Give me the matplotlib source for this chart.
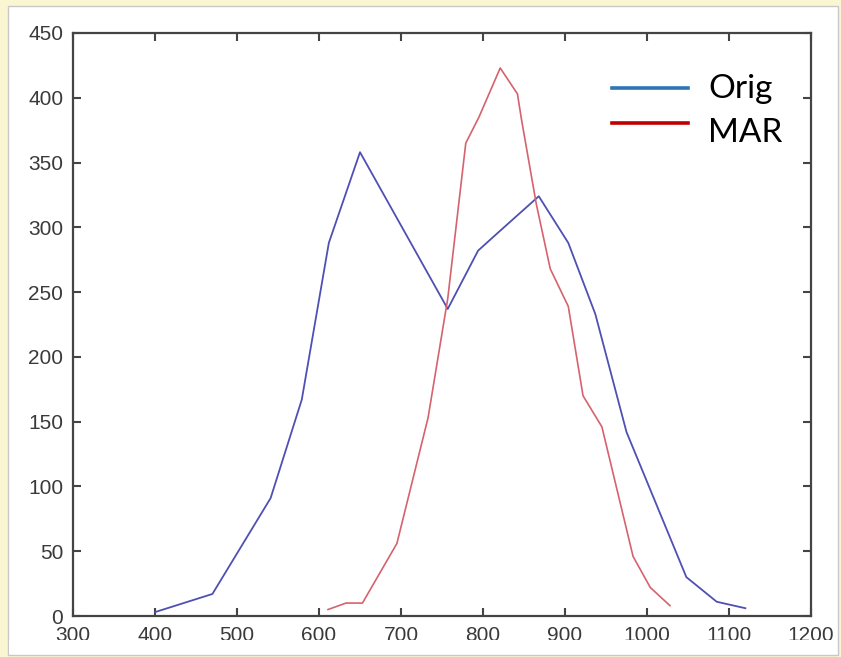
import numpy as np
import matplotlib
import matplotlib.pyplot as plt
from matplotlib.patches import Rectangle
from matplotlib.lines import Line2D

# values
orig_x = [400, 470, 541, 579, 612, 650, 757, 794, 815, 868, 904, 937, 975, 1048, 1085, 1120]
orig_y = [3, 17, 91, 167, 288, 358, 237, 282, 294, 324, 288, 233, 142, 30, 11, 6]

mar_x = [611, 633, 653, 695, 733, 757, 779, 795, 821, 842, 847, 865, 882, 904, 922, 945, 983, 1004, 1028]
mar_y = [5, 10, 10, 56, 153, 245, 365, 385, 423, 403, 383, 318, 268, 239, 170, 146, 46, 22, 8]

x_ticks = [300, 400, 500, 600, 700, 800, 900, 1000, 1100, 1200]
y_ticks = [0, 50, 100, 150, 200, 250, 300, 350, 400, 450]
legend_names = ["Orig", "MAR"]

W, H = 841, 657

def fx(px):
    return px / W

def fy(py):
    return 1 - py / H

fig = plt.figure(figsize=(W / 100, H / 100), dpi=100, facecolor='#faf6d2')

# white window area of the screenshot
fig.patches.append(Rectangle((fx(8), fy(655)), fx(838) - fx(8), fy(6) - fy(655),
                             transform=fig.transFigure, facecolor='white',
                             edgecolor='#c8c8c8', lw=1.0, zorder=-5))

ax = fig.add_axes([fx(73), fy(616), fx(811) - fx(73), fy(33) - fy(616)])
ax.set_zorder(1)
ax.plot(orig_x, orig_y, color='#4f4fb4', lw=1.3)
ax.plot(mar_x, mar_y, color='#d6626e', lw=1.2)

ax.set_xlim(300, 1200)
ax.set_ylim(0, 450)
ax.set_xticks(x_ticks)
ax.set_yticks(y_ticks)
for s in ax.spines.values():
    s.set_color('#444444')
    s.set_linewidth(1.6)
ax.tick_params(direction='in', length=6, width=1.5, color='#444444',
               top=True, right=True, labelsize=15, labelcolor='#3a3a3a', pad=7)
for lab in ax.get_xticklabels() + ax.get_yticklabels():
    lab.set_family('Liberation Sans')

# the screenshot cuts off the bottom of the x tick labels
mask = Rectangle((fx(9), fy(654)), fx(837) - fx(9), fy(640) - fy(654),
                 transform=fig.transFigure, facecolor='white',
                 edgecolor='none', zorder=10)
fig.add_artist(mask)

# legend pasted on top of the plot
leg_colors = ['#2e75b6', '#c00000']
leg_y = [88, 123]
txt_y = [97.5, 141.5]
for name, c, ly, ty in zip(legend_names, leg_colors, leg_y, txt_y):
    fig.add_artist(Line2D([fx(612), fx(688)], [fy(ly), fy(ly)],
                          transform=fig.transFigure, color=c, lw=2.6, zorder=10))
    fig.text(fx(708), fy(ty), name, family='Lato', fontsize=24,
             color='black', va='baseline', ha='left', zorder=10)

fig.savefig('out.png', dpi=100, facecolor=fig.get_facecolor())
